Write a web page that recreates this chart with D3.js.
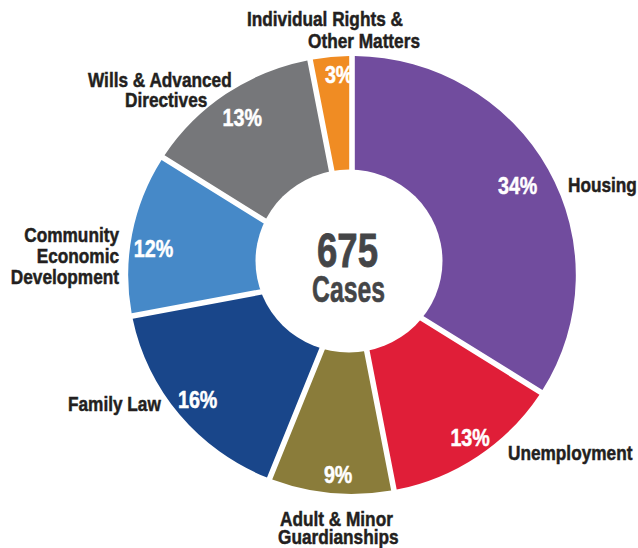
<!DOCTYPE html>
<html>
<head>
<meta charset="utf-8">
<script src="https://cdn.jsdelivr.net/npm/d3@7"></script>
<style>
  html, body { margin: 0; padding: 0; background: #ffffff; }
  svg { display: block; }
  text { font-family: "Liberation Sans", Arial, sans-serif; font-weight: bold; }
</style>
</head>
<body>
<svg id="chart" width="638" height="548"></svg>
<script>
// ---- data ----
const categories = ["Housing", "Unemployment", "Adult & Minor Guardianships", "Family Law",
  "Community Economic Development", "Wills & Advanced Directives", "Individual Rights & Other Matters"];
const percents = [34, 13, 9, 16, 12, 13, 3];
const labelLines = [["Housing"], ["Unemployment"], ["Adult & Minor", "Guardianships"], ["Family Law"],
  ["Community", "Economic", "Development"], ["Wills & Advanced", "Directives"], ["Individual Rights &", "Other Matters"]];
const totalCases = "675";
const totalLabel = "Cases";

// ---- styles / layout ----
const colors = ["#714c9e", "#e01e38", "#8a7c3a", "#19468a", "#4689c8", "#76777a", "#f08c23"];
const W = 638, H = 548;
const cx = 352, cy = 275, R = 219, scaleX = 1.022;
const gap = 5.5;
const narrow = 0.82; // horizontal condensing of text
const hole = { dx: -3, dy: -14, rx: 93.5, ry: 91.5 };
// percent label radius and angular nudge (deg) per slice
const pctRadius = [185, 199, 200, 196, 196, 191, 201];
const pctNudge = [0, -1.3, -1.5, 0, -3, 0, 1.8];
// outer label lines: [x, baseline, anchor]
const labelPos = [
  [[568, 192, "start"]],
  [[508, 460, "start"]],
  [[280, 526, "start"], [278, 544, "start"]],
  [[68, 411, "start"]],
  [[119, 242, "end"], [119, 263, "end"], [119, 284, "end"]],
  [[88, 87, "start"], [125, 107, "start"]],
  [[247, 26, "start"], [308, 48, "start"]]
];

const svg = d3.select("#chart");
svg.append("rect").attr("width", W).attr("height", H).attr("fill", "#fff");

function condense(sel) {
  sel.each(function () {
    const w = this.getComputedTextLength();
    d3.select(this).attr("textLength", w * narrow).attr("lengthAdjust", "spacingAndGlyphs");
  });
}

const pie = d3.pie().sort(null).value(d => d)(percents);
const arc = d3.arc().innerRadius(30).outerRadius(R).padRadius(R).padAngle(gap / R);

const g = svg.append("g").attr("transform", `translate(${cx},${cy}) scale(${scaleX},1)`);
g.selectAll("path.slice").data(pie).join("path")
  .attr("class", "slice")
  .attr("d", arc)
  .attr("fill", (d, i) => colors[i]);

// center hole
svg.append("ellipse")
  .attr("cx", cx + hole.dx).attr("cy", cy + hole.dy)
  .attr("rx", hole.rx).attr("ry", hole.ry)
  .attr("fill", "#fff");

// percent labels
svg.selectAll("text.pct").data(pie).join("text")
  .attr("class", "pct")
  .attr("text-anchor", "middle")
  .attr("fill", "#fff")
  .attr("stroke", "#fff").attr("stroke-width", 0.5)
  .attr("font-size", 24)
  .attr("x", (d, i) => {
    const a = (d.startAngle + d.endAngle) / 2 + pctNudge[i] * Math.PI / 180;
    return cx + scaleX * pctRadius[i] * Math.sin(a);
  })
  .attr("y", (d, i) => {
    const a = (d.startAngle + d.endAngle) / 2 + pctNudge[i] * Math.PI / 180;
    return cy - pctRadius[i] * Math.cos(a) + 8.5;
  })
  .text(d => d.data + "%")
  .call(condense);

// outer labels
labelLines.forEach((lines, i) => {
  lines.forEach((line, j) => {
    const p = labelPos[i][j];
    svg.append("text")
      .attr("class", "cat")
      .attr("x", p[0]).attr("y", p[1])
      .attr("text-anchor", p[2])
      .attr("fill", "#231f20")
      .attr("stroke", "#231f20").attr("stroke-width", 0.5)
      .attr("font-size", 21)
      .text(line)
      .call(condense);
  });
});

// center text
svg.append("text")
  .attr("x", cx + hole.dx - 1.5).attr("y", cy + hole.dy + 6)
  .attr("text-anchor", "middle")
  .attr("fill", "#444547")
  .attr("stroke", "#444547").attr("stroke-width", 0.8)
  .attr("font-size", 47.5)
  .attr("textLength", 61).attr("lengthAdjust", "spacingAndGlyphs")
  .text(totalCases);
svg.append("text")
  .attr("x", cx + hole.dx - 0.5).attr("y", cy + hole.dy + 41)
  .attr("text-anchor", "middle")
  .attr("fill", "#444547")
  .attr("stroke", "#444547").attr("stroke-width", 0.6)
  .attr("font-size", 37.5)
  .attr("textLength", 73).attr("lengthAdjust", "spacingAndGlyphs")
  .text(totalLabel);
</script>
</body>
</html>
